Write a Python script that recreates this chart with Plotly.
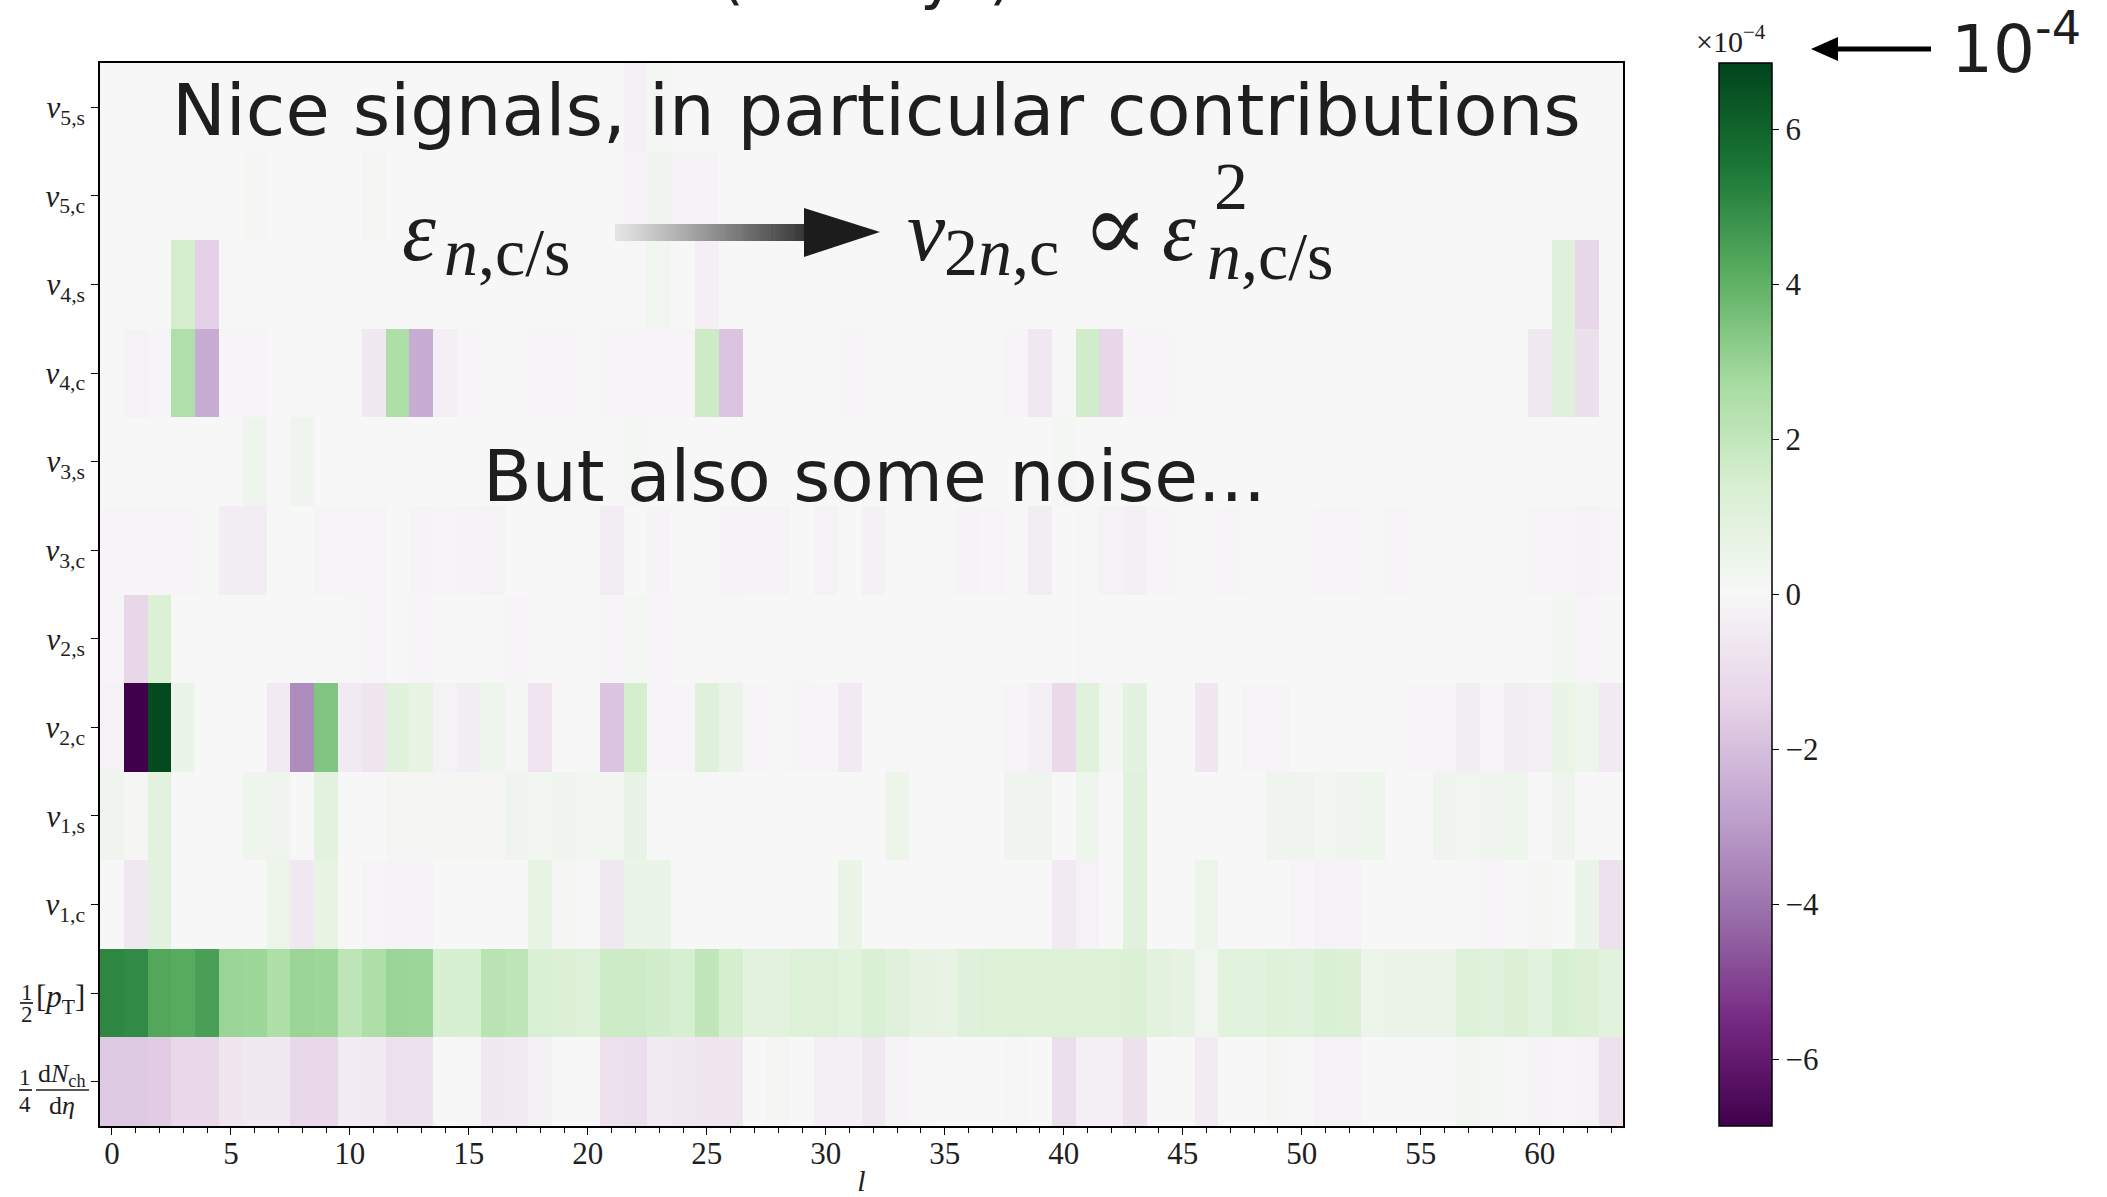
import plotly.graph_objects as go

# ---------------------------------------------------------------------------
# Data: contribution of each observable to the l-th component (units of 1e-4)
# ---------------------------------------------------------------------------
l_index = list(range(64))

# the two fraction-style labels (rows 0 and 1) are typeset separately below
row_labels = [
    "", "",
    "<i>v</i><sub>1,c</sub>", "<i>v</i><sub>1,s</sub>",
    "<i>v</i><sub>2,c</sub>", "<i>v</i><sub>2,s</sub>",
    "<i>v</i><sub>3,c</sub>", "<i>v</i><sub>3,s</sub>",
    "<i>v</i><sub>4,c</sub>", "<i>v</i><sub>4,s</sub>",
    "<i>v</i><sub>5,c</sub>", "<i>v</i><sub>5,s</sub>",
]

dndeta = [-1.7, -1.7, -1.6, -1.2, -1.2, -0.7, -0.55, -0.55, -1.2, -1.2, -0.45, -0.5, -0.85, -0.85, 0.0, -0.05,
          -0.55, -0.5, -0.25, 0.05, 0.05, -0.85, -0.95, -0.5, -0.6, -0.7, -0.7, 0.05, 0.1, 0.0, -0.3, -0.3,
          -0.6, -0.15, -0.05, 0.0, 0.0, 0.0, -0.05, 0.0, -0.95, -0.3, -0.3, -0.85, 0.0, 0.0, -0.45, 0.0,
          0.05, 0.1, -0.05, -0.2, -0.2, 0.0, 0.0, 0.0, 0.0, 0.3, 0.2, -0.05, -0.15, -0.1, -0.2, -0.85]

mean_pt = [5.1, 5.0, 4.3, 4.2, 4.5, 2.95, 2.9, 2.5, 2.95, 2.9, 2.1, 2.5, 2.95, 2.9, 1.4, 1.4,
           2.2, 2.1, 1.35, 1.3, 1.2, 1.7, 1.7, 1.6, 1.45, 2.0, 1.5, 0.9, 0.9, 1.2, 1.2, 1.0,
           1.35, 1.1, 0.8, 0.7, 1.1, 1.25, 1.25, 1.25, 1.25, 1.25, 1.25, 1.3, 0.9, 0.8, 0.3, 1.0,
           1.0, 1.15, 1.05, 1.35, 1.3, 0.45, 0.5, 0.5, 0.5, 1.2, 1.05, 1.3, 1.0, 1.4, 1.3, 1.0]

v1c = [0.0, -0.6, 0.9, 0.0, 0.0, 0.0, 0.0, 0.45, -0.55, 0.75, 0.0, -0.1, -0.15, -0.15, 0.0, 0.0,
       0.0, 0.0, 0.75, 0.1, 0.0, -0.6, 0.6, 0.6, 0.0, 0.0, -0.05, 0.0, 0.0, 0.0, 0.0, 0.6,
       0.0, 0.0, 0.0, 0.0, 0.0, 0.0, 0.0, 0.0, -0.5, -0.2, 0.0, 1.05, 0.0, 0.0, 0.45, 0.0,
       0.0, 0.0, -0.1, -0.2, -0.15, 0.0, 0.0, 0.0, 0.0, -0.05, -0.1, 0.0, 0.1, 0.0, 0.55, -0.85]

v1s = [0.35, 0.1, 0.95, 0.0, 0.0, 0.05, 0.4, 0.35, 0.05, 0.95, 0.0, 0.05, 0.1, 0.1, 0.1, 0.1,
       0.1, 0.35, 0.25, 0.35, 0.25, 0.25, 0.7, 0.0, 0.0, 0.0, 0.0, 0.0, 0.0, 0.0, 0.0, 0.05,
       0.0, 0.45, 0.0, 0.0, 0.0, 0.0, 0.35, 0.35, 0.0, 0.4, 0.0, 1.05, 0.0, 0.05, 0.05, 0.0,
       0.0, 0.35, 0.35, 0.25, 0.35, 0.4, 0.05, 0.05, 0.35, 0.3, 0.35, 0.4, 0.0, 0.35, 0.0, 0.0]

v2c = [-0.2, -6.86, 6.7, 0.55, 0.0, 0.0, 0.0, -0.5, -3.4, 3.4, -0.5, -0.7, 1.05, 0.75, -0.2, -0.35,
       0.4, 0.15, -0.8, 0.0, 0.0, -1.8, 1.5, -0.1, -0.1, 1.1, 0.5, -0.1, -0.05, -0.1, -0.1, -0.5,
       0.0, -0.05, -0.05, -0.05, -0.05, -0.05, -0.1, -0.3, -1.15, 1.05, 0.25, 0.85, 0.0, 0.0, -0.65, 0.0,
       -0.1, -0.1, 0.0, 0.0, 0.0, 0.0, 0.0, -0.1, -0.1, -0.35, -0.1, -0.35, -0.3, 0.6, 0.4, -0.5]

v2s = [-0.1, -1.25, 1.3, 0.05, 0.0, 0.0, 0.0, 0.0, 0.0, 0.0, -0.05, -0.1, 0.0, -0.1, 0.0, 0.0,
       0.0, -0.1, 0.0, -0.05, 0.0, -0.1, 0.15, -0.1, 0.0, 0.0, -0.05, 0.0, 0.0, -0.05, 0.0, 0.0,
       0.0, 0.0, -0.05, 0.0, 0.0, 0.0, 0.0, 0.0, 0.0, -0.05, 0.0, 0.0, 0.0, 0.0, 0.0, 0.0,
       0.0, 0.0, 0.0, 0.0, 0.0, 0.0, 0.0, 0.0, 0.0, -0.05, 0.0, -0.05, 0.0, 0.25, -0.1, 0.0]

v3c = [-0.1, -0.1, -0.1, -0.1, -0.05, -0.4, -0.4, 0.0, 0.0, -0.1, -0.1, -0.1, 0.0, -0.15, -0.1, -0.15,
       -0.2, 0.0, 0.0, 0.0, 0.0, -0.4, 0.0, -0.15, 0.0, -0.05, -0.15, -0.15, -0.15, 0.0, -0.2, 0.0,
       -0.25, -0.05, -0.05, -0.05, -0.15, -0.1, -0.05, -0.4, 0.0, -0.05, -0.2, -0.3, -0.1, -0.05, -0.05, -0.1,
       -0.05, 0.0, -0.05, -0.1, -0.1, -0.05, -0.1, -0.05, -0.05, 0.0, 0.0, -0.05, -0.1, -0.1, -0.2, -0.1]

v3s = [0.05, 0.05, 0.05, 0.0, 0.0, 0.0, 0.4, 0.05, 0.35, 0.0, 0.0, 0.0, 0.0, 0.0, 0.05, 0.05,
       0.05, 0.05, 0.05, 0.0, 0.0, 0.0, 0.15, 0.05, 0.05, 0.0, 0.0, 0.0, 0.0, 0.0, 0.0, 0.0,
       0.0, 0.05, 0.0, 0.0, 0.0, 0.0, 0.0, 0.0, 0.15, 0.0, 0.0, 0.0, 0.0, 0.0, 0.05, 0.0,
       0.0, 0.0, 0.0, 0.0, 0.0, 0.0, 0.0, 0.05, 0.0, 0.0, 0.0, 0.0, 0.0, 0.0, 0.0, 0.0]

v4c = [0.0, -0.2, -0.1, 2.45, -2.55, -0.1, -0.1, 0.0, -0.05, -0.05, -0.05, -0.55, 2.5, -2.55, -0.3, -0.1,
       -0.05, -0.05, -0.1, -0.1, -0.05, -0.1, -0.1, -0.1, -0.1, 1.7, -1.85, 0.0, -0.05, -0.05, -0.05, -0.1,
       -0.05, -0.05, -0.05, 0.0, -0.05, -0.05, -0.1, -0.6, 0.0, 1.6, -1.3, -0.1, -0.1, -0.05, -0.05, -0.05,
       -0.05, -0.05, 0.0, -0.05, -0.05, 0.0, 0.0, 0.0, -0.05, -0.05, -0.05, -0.05, -0.6, 1.1, -0.9, 0.0]

v4s = [0.0, 0.0, 0.0, 1.5, -1.45, 0.0, 0.0, 0.0, 0.0, 0.0, 0.0, 0.0, 0.0, 0.0, 0.0, 0.0,
       0.0, 0.0, 0.0, 0.0, 0.0, 0.0, -0.05, 0.3, 0.0, -0.3, 0.0, 0.0, 0.0, 0.0, 0.0, 0.0,
       0.0, 0.0, 0.0, 0.0, 0.0, 0.0, 0.0, 0.0, 0.0, 0.0, 0.0, 0.0, 0.0, 0.0, 0.0, 0.0,
       0.0, 0.0, 0.0, 0.0, 0.0, 0.0, 0.0, 0.0, 0.0, 0.0, 0.0, 0.0, 0.0, 1.1, -1.25, 0.0]

v5c = [0.0, 0.0, 0.0, 0.0, 0.0, 0.0, 0.1, 0.0, 0.0, 0.0, 0.0, 0.1, 0.0, 0.0, 0.0, 0.0,
       0.0, 0.0, 0.0, 0.0, 0.0, 0.0, -0.15, 0.35, -0.2, -0.15, 0.0, 0.0, 0.0, 0.0, 0.0, 0.0,
       0.0, 0.0, 0.0, 0.0, 0.0, 0.0, 0.0, 0.0, 0.0, 0.0, 0.0, 0.0, 0.0, 0.0, 0.0, 0.0,
       0.0, 0.0, 0.0, 0.0, 0.0, 0.0, 0.0, 0.0, 0.0, 0.0, 0.0, 0.0, 0.0, 0.0, 0.0, 0.0]

v5s = [0.0, 0.0, 0.0, 0.0, 0.0, 0.0, 0.0, 0.0, 0.0, 0.0, 0.0, 0.0, 0.0, 0.0, 0.0, 0.0,
       0.0, 0.0, 0.0, 0.0, 0.0, 0.0, -0.25, 0.15, 0.0, 0.0, 0.0, 0.0, 0.0, 0.0, 0.0, 0.0,
       0.0, 0.0, 0.0, 0.0, 0.0, 0.0, 0.0, 0.0, 0.0, 0.0, 0.0, 0.0, 0.0, 0.0, 0.0, 0.0,
       0.0, 0.0, 0.0, 0.0, 0.0, 0.0, 0.0, 0.0, 0.0, 0.0, 0.0, 0.0, 0.0, 0.0, 0.0, 0.0]

z_rows = [dndeta, mean_pt, v1c, v1s, v2c, v2s, v3c, v3s, v4c, v4s, v5c, v5s]

color_limit = 6.86
cbar_ticks = [-6, -4, -2, 0, 2, 4, 6]
cbar_ticktext = ["−6", "−4", "−2", "0", "2", "4", "6"]

# ---------------------------------------------------------------------------
# Figure geometry (pixels)
# ---------------------------------------------------------------------------
W_PX, H_PX = 2107, 1197
L, R, T, B = 100, 1623, 63, 1126


def X(px):
    return (px - L) / (R - L)


def Y(py):
    return (B - py) / (B - T)


SERIF = "Liberation Serif, DejaVu Serif, serif"
HAND = "DejaVu Sans, Noto Sans, sans-serif"
INK = "#1e1e1e"

fig = go.Figure()

fig.add_trace(go.Heatmap(
    z=z_rows,
    x=l_index,
    y=list(range(len(row_labels))),
    colorscale="PRGn",
    zmin=-color_limit, zmax=color_limit, zmid=0,
    hoverinfo="skip",
    colorbar=dict(
        x=X(1719), xanchor="left", xpad=0,
        y=0.5, yanchor="middle", ypad=0,
        len=1.0, lenmode="fraction",
        thickness=53, thicknessmode="pixels",
        outlinewidth=1.5, outlinecolor="black",
        tickmode="array", tickvals=cbar_ticks, ticktext=cbar_ticktext,
        ticks="outside", ticklen=7, tickwidth=1.2, tickcolor="black",
        tickfont=dict(family=SERIF, size=31, color=INK),
    ),
))

# ---------------------------------------------------------------------------
# Decorations: arrows and fraction bars
# ---------------------------------------------------------------------------
shapes = []

# shaded arrow between the eccentricity and flow expressions
x0, x1 = 615, 806
n_steps = 60
for i in range(n_steps):
    t = i / (n_steps - 1)
    g = int(228 - (228 - 55) * t ** 1.1)
    xa = x0 + (x1 - x0) * i / n_steps
    xb = x0 + (x1 - x0) * (i + 1) / n_steps + 0.6
    shapes.append(dict(type="rect", xref="paper", yref="paper",
                       x0=X(xa), x1=X(xb), y0=Y(241), y1=Y(224),
                       fillcolor=f"rgb({g},{g},{g})", line=dict(width=0), layer="above"))
shapes.append(dict(type="path", xref="paper", yref="paper",
                   path=f"M {X(804)} {Y(208)} L {X(880)} {Y(232)} L {X(804)} {Y(257)} Z",
                   fillcolor="#1c1c1c", line=dict(width=0), layer="above"))

# arrow pointing at the colour-bar multiplier
shapes.append(dict(type="line", xref="paper", yref="paper",
                   x0=X(1931), x1=X(1834), y0=Y(49), y1=Y(49),
                   line=dict(color="black", width=5), layer="above"))
shapes.append(dict(type="path", xref="paper", yref="paper",
                   path=f"M {X(1811)} {Y(49)} L {X(1838)} {Y(37)} L {X(1838)} {Y(61)} Z",
                   fillcolor="black", line=dict(width=0), layer="above"))

# fraction bars of the two lowest row labels
for bx0, bx1, by in [(20, 33, 1003), (19, 32, 1090), (36, 89, 1090)]:
    shapes.append(dict(type="line", xref="paper", yref="paper",
                       x0=X(bx0), x1=X(bx1), y0=Y(by), y1=Y(by),
                       line=dict(color=INK, width=1.7)))

# ---------------------------------------------------------------------------
# Text
# ---------------------------------------------------------------------------
MATH_BIG = 86
MATH_SUB = 68

annotations = [
    # headline running off the top of the page
    dict(text="Results at the end of Phase (10 days).", x=X(1035), y=Y(14),
         xanchor="right", yanchor="bottom", font=dict(family=HAND, size=62, color=INK)),
    dict(text="Nice signals, in particular contributions", x=X(876), y=Y(110),
         xanchor="center", yanchor="middle", font=dict(family=HAND, size=72, color=INK)),
    dict(text="But also some noise...", x=X(874), y=Y(476),
         xanchor="center", yanchor="middle", font=dict(family=HAND, size=71, color=INK)),

    # eps_{n,c/s}
    dict(text="<i>ε</i>", x=X(400), y=Y(231),
         xanchor="left", yanchor="middle", font=dict(family=SERIF, size=MATH_BIG, color=INK)),
    dict(text="<i>n</i>,c/s", x=X(442), y=Y(252),
         xanchor="left", yanchor="middle", font=dict(family=SERIF, size=MATH_SUB, color=INK)),

    # v_{2n,c} ∝ eps^2_{n,c/s}
    dict(text="<i>v</i>", x=X(905), y=Y(231),
         xanchor="left", yanchor="middle", font=dict(family=SERIF, size=MATH_BIG, color=INK)),
    dict(text="2<i>n</i>,c", x=X(942), y=Y(252),
         xanchor="left", yanchor="middle", font=dict(family=SERIF, size=MATH_SUB, color=INK)),
    dict(text="∝", x=X(1080), y=Y(228),
         xanchor="left", yanchor="middle", font=dict(family=SERIF, size=98, color=INK)),
    dict(text="<i>ε</i>", x=X(1160), y=Y(231),
         xanchor="left", yanchor="middle", font=dict(family=SERIF, size=MATH_BIG, color=INK)),
    dict(text="2", x=X(1212), y=Y(186),
         xanchor="left", yanchor="middle", font=dict(family=SERIF, size=MATH_SUB, color=INK)),
    dict(text="<i>n</i>,c/s", x=X(1205), y=Y(256),
         xanchor="left", yanchor="middle", font=dict(family=SERIF, size=MATH_SUB, color=INK)),

    # row label 1/2 [p_T]
    dict(text="1", x=X(27), y=Y(992), xanchor="center", yanchor="middle",
         font=dict(family=SERIF, size=23, color=INK)),
    dict(text="2", x=X(27), y=Y(1015), xanchor="center", yanchor="middle",
         font=dict(family=SERIF, size=23, color=INK)),
    dict(text="[<i>p</i><sub>T</sub>]", x=X(34), y=Y(999), xanchor="left", yanchor="middle",
         font=dict(family=SERIF, size=31, color=INK)),

    # row label 1/4 dN_ch/deta
    dict(text="1", x=X(25), y=Y(1077), xanchor="center", yanchor="middle",
         font=dict(family=SERIF, size=23, color=INK)),
    dict(text="4", x=X(25), y=Y(1104), xanchor="center", yanchor="middle",
         font=dict(family=SERIF, size=23, color=INK)),
    dict(text="d<i>N</i><sub>ch</sub>", x=X(62), y=Y(1075), xanchor="center", yanchor="middle",
         font=dict(family=SERIF, size=26, color=INK)),
    dict(text="d<i>η</i>", x=X(62), y=Y(1105), xanchor="center", yanchor="middle",
         font=dict(family=SERIF, size=26, color=INK)),

    # colour-bar multiplier
    dict(text="×10<sup>−4</sup>", x=X(1731), y=Y(60),
         xanchor="center", yanchor="bottom", font=dict(family=SERIF, size=30, color=INK)),
    dict(text="10<sup>-4</sup>", x=X(2016), y=Y(45),
         xanchor="center", yanchor="middle", font=dict(family=HAND, size=66, color=INK)),
]
for a in annotations:
    a.update(xref="paper", yref="paper", showarrow=False)

fig.update_layout(
    width=W_PX, height=H_PX,
    margin=dict(l=L, r=W_PX - R, t=T, b=H_PX - B, autoexpand=False),
    paper_bgcolor="white", plot_bgcolor="#f7f7f7",
    shapes=shapes, annotations=annotations,
    showlegend=False,
)

fig.update_xaxes(
    range=[-0.5, 63.5], tickmode="linear", tick0=0, dtick=5,
    ticks="outside", ticklen=7, tickwidth=1.2, tickcolor="black",
    minor=dict(dtick=1, tick0=0, ticks="outside", ticklen=5, tickwidth=1, tickcolor="black"),
    showline=True, mirror=True, linecolor="black", linewidth=1.5,
    showgrid=False, zeroline=False, automargin=False,
    ticklabelstandoff=-8,
    tickfont=dict(family=SERIF, size=31, color=INK),
    title=dict(text="<i>l</i>", font=dict(family=SERIF, size=30, color=INK), standoff=20),
)
fig.update_yaxes(
    range=[-0.5, 11.5], tickmode="array",
    tickvals=list(range(len(row_labels))), ticktext=row_labels,
    ticks="outside", ticklen=7, tickwidth=1.2, tickcolor="black",
    showline=True, mirror=True, linecolor="black", linewidth=1.5,
    showgrid=False, zeroline=False, automargin=False,
    tickfont=dict(family=SERIF, size=31, color=INK),
)

fig.write_html("out.html")
